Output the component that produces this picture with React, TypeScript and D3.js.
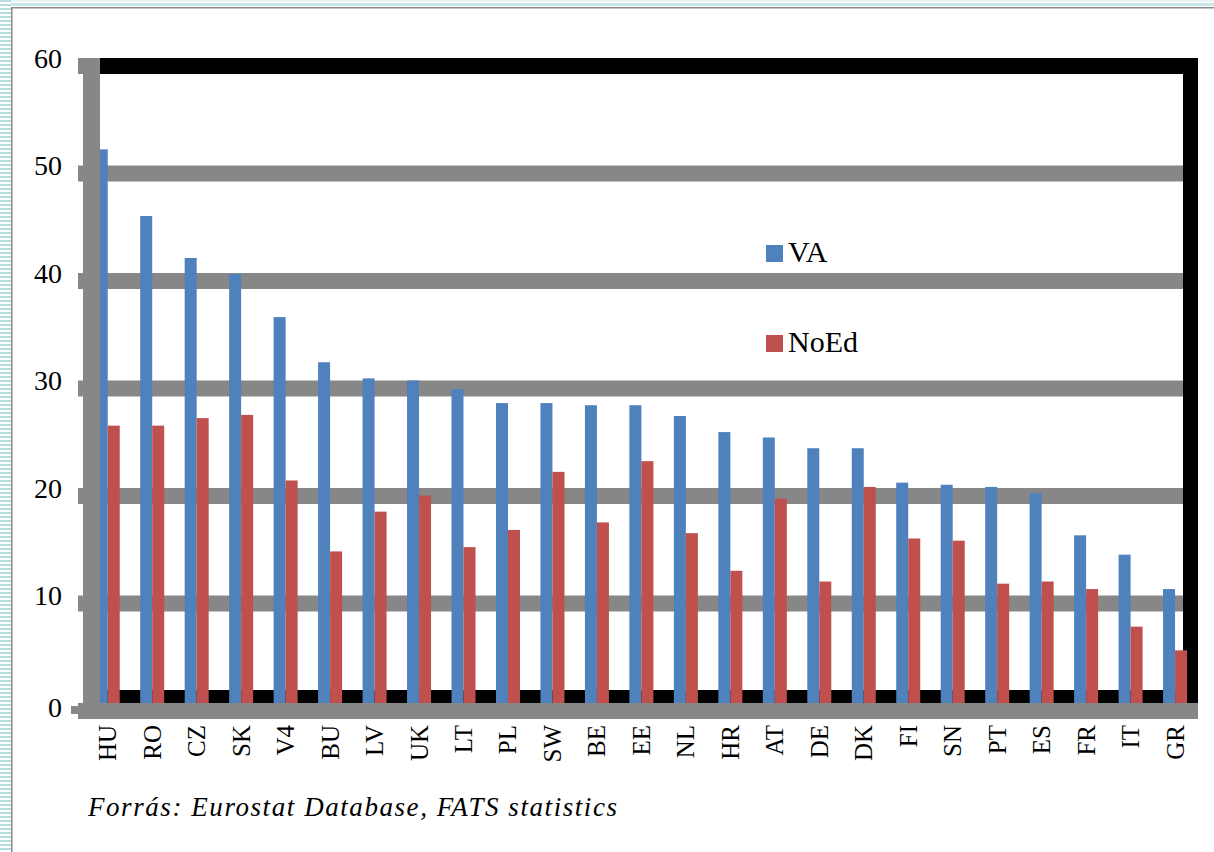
import React from "react";
import * as d3 from "d3";

const categories = ["HU","RO","CZ","SK","V4","BU","LV","UK","LT","PL","SW","BE","EE","NL","HR","AT","DE","DK","FI","SN","PT","ES","FR","IT","GR"];
const vaValues = [51.5,45.3,41.4,39.9,35.9,31.7,30.2,30.0,29.2,27.9,27.9,27.7,27.7,26.7,25.2,24.7,23.7,23.7,20.5,20.3,20.1,19.5,15.6,13.8,10.6];
const noEdValues = [25.8,25.8,26.5,26.8,20.7,14.1,17.8,19.3,14.5,16.1,21.5,16.8,22.5,15.8,12.3,19.0,11.3,20.1,15.3,15.1,11.1,11.3,10.6,7.1,4.9];
const yTicks = [0,10,20,30,40,50,60];
const seriesNames = ["VA","NoEd"];
const caption = "Forrás: Eurostat Database, FATS statistics";

const BLUE = "#4F81BD";
const RED = "#C0504D";
const GRAY = "#878787";
const FONT = "Liberation Serif, Times New Roman, serif";

export default function App() {
  const W = 1214, H = 852;
  const y = d3.scaleLinear().domain([0, 60]).range([703, 58]);
  const x = d3.scaleBand<string>().domain(categories).range([85.5, 1197.3]).padding(0);
  const bw = 12;
  const G = 16; // line thickness
  const left = 100, right = 1183, rightOuter = 1198;
  const y0 = y(0);

  return (
    <svg width={W} height={H} style={{ position: "absolute", left: 0, top: 0, background: "#fff" }}>
      <defs>
        <pattern id="stripes" width="4" height="4" patternUnits="userSpaceOnUse">
          <rect x="0" y="0" width="4" height="4" fill="#ffffff" />
          <rect x="0" y="0" width="4" height="2" fill="#b3dde0" />
        </pattern>
      </defs>
      {/* frame decoration */}
      <rect x={0} y={0} width={11} height={H} fill="url(#stripes)" />
      <rect x={11} y={0} width={W - 11} height={2} fill="#e6f4f5" />
      <rect x={11} y={3} width={W - 11} height={3} fill="#c6e6e8" />
      <rect x={11} y={7} width={W - 11} height={1.5} fill="#8a8a8a" />
      <rect x={11} y={7} width={1.5} height={H - 7} fill="#8a8a8a" />

      {/* gridlines */}
      {yTicks.filter(t => t > 0 && t < 60).map(t => (
        <rect key={"g" + t} x={left} y={y(t)} width={right - left} height={G} fill={GRAY} />
      ))}
      {/* black border */}
      <rect x={left} y={y(60)} width={rightOuter - left} height={G} fill="#000" />
      <rect x={right} y={y(60)} width={rightOuter - right} height={y0 - y(60)} fill="#000" />
      <rect x={left} y={y0 - 13} width={right - left} height={13} fill="#000" />

      {/* bars */}
      {categories.map((c, i) => {
        const cx = (x(c) as number) + x.bandwidth() / 2;
        return (
          <g key={c}>
            <rect x={cx - bw} y={y(vaValues[i])} width={bw} height={y0 - y(vaValues[i])} fill={BLUE} />
            <rect x={cx} y={y(noEdValues[i])} width={bw} height={y0 - y(noEdValues[i])} fill={RED} />
          </g>
        );
      })}

      {/* left axis */}
      <rect x={83} y={y(60)} width={17} height={719 - y(60)} fill={GRAY} />
      {yTicks.filter(t => t > 0).map(t => (
        <rect key={"t" + t} x={78} y={y(t)} width={5} height={G} fill={GRAY} />
      ))}
      <rect x={71} y={706} width={12} height={8} fill={GRAY} />
      {/* bottom axis */}
      <rect x={78} y={y0} width={rightOuter - 78} height={G} fill={GRAY} />

      {/* y tick labels */}
      {yTicks.map(t => (
        <text key={"l" + t} x={62} y={y(t) + (t === 0 ? 4 : 0)} textAnchor="end" dominantBaseline="central"
          fontFamily={FONT} fontSize={28} fill="#000">{t}</text>
      ))}

      {/* category labels */}
      {categories.map(c => {
        const cx = (x(c) as number) + x.bandwidth() / 2;
        return (
          <text key={"c" + c} transform={`translate(${cx},725) rotate(-90)`} textAnchor="end"
            dominantBaseline="central" fontFamily={FONT} fontSize={25} fill="#000">{c}</text>
        );
      })}

      {/* legend */}
      <rect x={766} y={245} width={17} height={17} fill={BLUE} />
      <text x={788} y={262} fontFamily={FONT} fontSize={30} fill="#000">{seriesNames[0]}</text>
      <rect x={766} y={335} width={17} height={17} fill={RED} />
      <text x={788} y={352} fontFamily={FONT} fontSize={30} fill="#000">{seriesNames[1]}</text>

      {/* caption */}
      <text x={88} y={816} fontFamily={FONT} fontStyle="italic" fontSize={27} fill="#000"
        textLength={529} lengthAdjust="spacing">{caption}</text>
    </svg>
  );
}
